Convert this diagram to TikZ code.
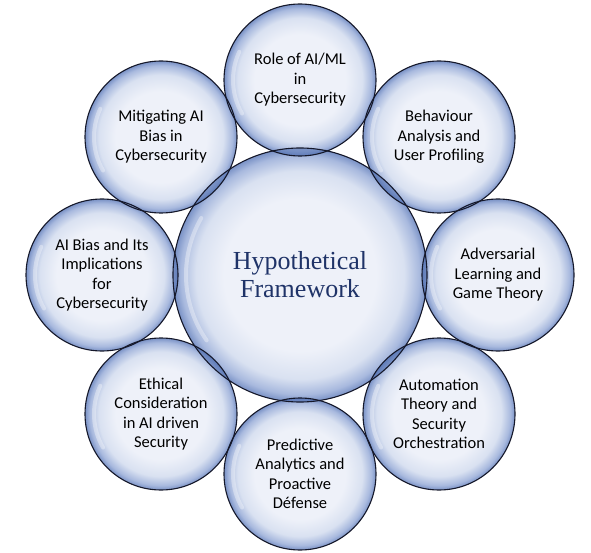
\documentclass[tikz,border=0pt]{standalone}
\usepackage{fontspec}
\setmainfont{Carlito}
\newfontfamily\serifc{Liberation Serif}
\definecolor{bubA}{HTML}{EEF1F9}
\definecolor{bubB}{HTML}{D9E1F1}
\definecolor{bubC}{HTML}{A8B9DE}
\definecolor{bubD}{HTML}{7A92C6}
\definecolor{lensc}{HTML}{4A6AAE}
\definecolor{titlec}{HTML}{1F3368}
\definecolor{edgec}{HTML}{15182A}
\pgfdeclareradialshading{bubble}{\pgfpoint{0bp}{0bp}}{color(0bp)=(bubA); color(15bp)=(bubA); color(20.5bp)=(bubB); color(23.5bp)=(bubC); color(25bp)=(bubD); color(50bp)=(bubD)}
\tikzset{
  bub/.style={circle, inner sep=0pt, minimum size=152pt, shading=bubble, align=center, font=\fontsize{16.5}{19.5}\selectfont, text=black},
  hub/.style={circle, inner sep=0pt, minimum size=254pt, shading=bubble, align=center, font=\serifc\fontsize{26}{28}\selectfont, text=titlec},
  rim/.style={draw=edgec, line width=1.1pt},
  lens/.style={fill=lensc, fill opacity=0.55},
  gleam/.style={draw=white, line width=4pt, opacity=0.35, line cap=round}
}
\begin{document}
\begin{tikzpicture}[x=1pt,y=-1pt]
\useasboundingbox (0,0) rectangle (591,553);
\node[hub] (h) at (300,275) {Hypothetical\\Framework};
\node[bub] (n1) at (300,80) {Role of AI/ML\\in\\Cybersecurity};
\node[bub] (n2) at (439,137) {Behaviour\\Analysis and\\User Profiling};
\node[bub] (n3) at (498,275) {Adversarial\\Learning and\\Game Theory};
\node[bub] (n4) at (439,414) {Automation\\Theory and\\Security\\Orchestration};
\node[bub] (n5) at (300,474) {Predictive\\Analytics and\\Proactive\\Défense};
\node[bub] (n6) at (161,414) {Ethical\\Consideration\\in AI driven\\Security};
\node[bub] (n7) at (102,275) {AI Bias and Its\\Implications\\for\\Cybersecurity};
\node[bub] (n8) at (161,137) {Mitigating AI\\Bias in\\Cybersecurity};
\begin{scope}
  \clip (h.center) circle [radius=127];
  \foreach \n in {n1,n2,n3,n4,n5,n6,n7,n8}
    \fill[lens] (\n.center) circle [radius=76];
\end{scope}
\foreach \n in {n1,n2,n3,n4,n5,n6,n7,n8}{
  \draw[gleam] (\n.center) ++(150:67) arc[start angle=150, end angle=205, radius=67];
  \draw[rim] (\n.center) circle [radius=76];
}
\draw[gleam] (h.center) ++(145:114) arc[start angle=145, end angle=210, radius=114];
\draw[rim] (h.center) circle [radius=127];
\end{tikzpicture}
\end{document}
